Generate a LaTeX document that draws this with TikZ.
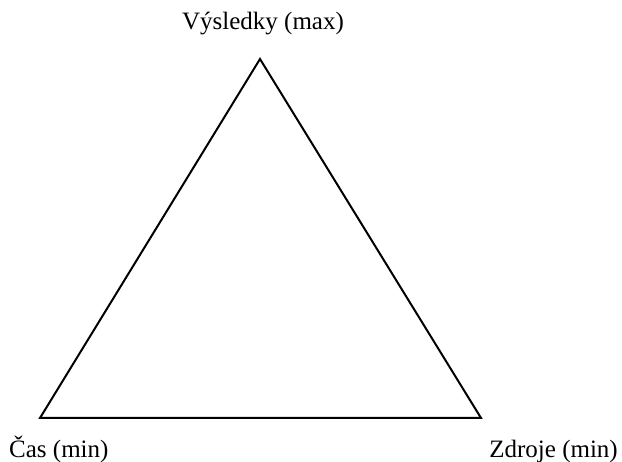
\documentclass[tikz,border=0pt]{standalone}
\usepackage{fontspec}
\setmainfont{Liberation Serif}
\tikzstyle{vx}=[shape=coordinate]
\tikzstyle{lbl}=[inner sep=0, font=\fontsize{25}{30}\selectfont]

\begin{document}
\begin{tikzpicture}[x=1pt, y=-1pt]
\useasboundingbox (0,0) rectangle (622,462);
\node at (260,59)[vx](top){};
\node at (40,418)[vx](left){};
\node at (481,418)[vx](right){};
\node at (263,30)[lbl, anchor=base](vysledky){Výsledky (max)};
\node at (9,457.5)[lbl, anchor=base west](cas){Čas (min)};
\node at (618,457.5)[lbl, anchor=base east](zdroje){Zdroje (min)};
\draw[line width=2pt] (top)--(right)--(left)--cycle;
\end{tikzpicture}
\end{document}
